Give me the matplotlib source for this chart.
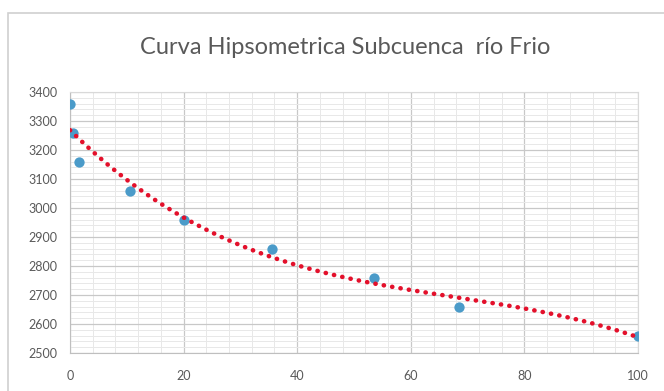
import numpy as np
import matplotlib.pyplot as plt
from matplotlib.patches import Rectangle
from matplotlib.ticker import MultipleLocator

# area acumulada (%) vs altitud (m)
area_pct = [0, 0.5, 1.5, 10.5, 20, 35.5, 53.5, 68.5, 100]
altitud = [3360, 3260, 3160, 3060, 2960, 2860, 2760, 2660, 2560]

titulo = "Curva Hipsometrica Subcuenca  río Frio"
gris = "#595959"

plt.rcParams['font.family'] = ['Lato', 'DejaVu Sans']

fig = plt.figure(figsize=(6.64, 3.91), dpi=100)
fig.patches.append(Rectangle((8/664, -0.1), 1.2, 1 - 13/391 + 0.1,
                             transform=fig.transFigure, fill=False,
                             edgecolor="#d0d0d0", linewidth=1.2))
ax = fig.add_axes([70/664, 1 - 353/391, 568/664, 261/391])

ax.scatter(area_pct, altitud, s=55, color="#4b9bc9", zorder=3, linewidths=0)

# linea de tendencia polinomica
coef = np.polyfit(area_pct, altitud, 3)
xt = np.linspace(0, 100, 300)
ax.plot(xt, np.polyval(coef, xt), color="#e3102b", linewidth=3.3,
        linestyle=(0, (0.05, 1.8)), dash_capstyle="round", zorder=4)

ax.set_xlim(0, 100)
ax.set_ylim(2500, 3400)
ax.xaxis.set_major_locator(MultipleLocator(20))
ax.xaxis.set_minor_locator(MultipleLocator(4))
ax.yaxis.set_major_locator(MultipleLocator(100))
ax.yaxis.set_minor_locator(MultipleLocator(20))
ax.grid(which="major", color="#c8c8c8", linewidth=0.9)
ax.grid(which="minor", color="#e8e8e8", linewidth=0.7)
ax.set_axisbelow(True)

for s in ["top", "right"]:
    ax.spines[s].set_color("#d9d9d9")
for s in ["left", "bottom"]:
    ax.spines[s].set_color("#bfbfbf")
ax.tick_params(which="both", length=0, labelsize=9, colors=gris)
ax.tick_params(axis="x", pad=12)
ax.tick_params(axis="y", pad=9)

fig.text(345/664, 1 - 47/391, titulo, ha="center", va="center",
         fontsize=17, color=gris)

fig.savefig("out.png", dpi=100)
